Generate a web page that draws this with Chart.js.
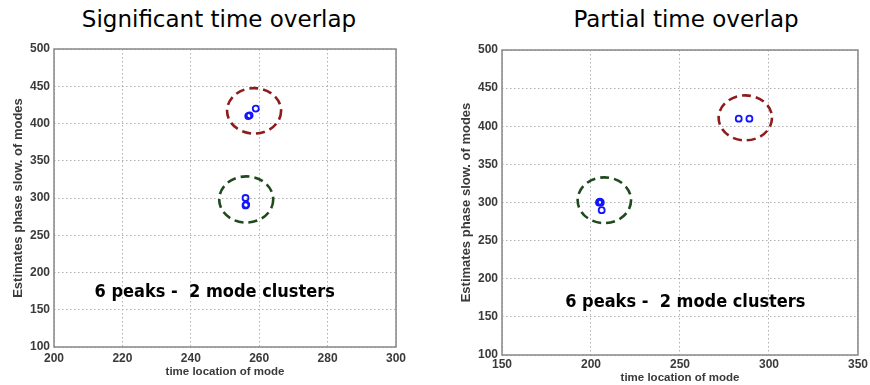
<!DOCTYPE html>
<html lang="en">
<head>
<meta charset="UTF-8" />
<title>Mode clusters</title>
<script src="https://cdn.jsdelivr.net/npm/chart.js"></script>
<style>
  * { margin: 0; padding: 0; box-sizing: border-box; }
  body {
    width: 870px;
    height: 385px;
    background: #fff;
    position: relative;
    overflow: hidden;
    font-family: 'DejaVu Sans', sans-serif;
  }
  .panel { position: absolute; top: 0; width: 435px; height: 385px; }
  .panel h2 {
    position: absolute;
    top: 8px;
    transform: translateX(-50%);
    font-weight: normal;
    font-size: 23px;
    line-height: 1;
    color: #000;
    white-space: nowrap;
  }
  canvas { position: absolute; left: 0; top: 0; }
</style>
</head>
<body>

<div class="panel" style="left:0">
  <h2 style="left:219px">Significant time overlap</h2>
  <canvas id="leftChart" width="435" height="385"></canvas>
</div>
<div class="panel" style="left:435px">
  <h2 style="left:251px">Partial time overlap</h2>
  <canvas id="rightChart" width="435" height="385"></canvas>
</div>

<script>
  // detected peaks: time location vs. estimated phase slowness
  const leftTimes  = [256.8, 257.2, 259, 256, 256, 256.2];
  const leftSlows  = [410, 411, 420, 300, 290, 291];
  const rightTimes = [283, 289, 204.5, 205.5, 205, 206];
  const rightSlows = [410, 410, 300, 300, 301, 290];

  const leftXTicks  = [200, 220, 240, 260, 280, 300];
  const rightXTicks = [150, 200, 250, 300, 350];
  const yTicks      = [100, 150, 200, 250, 300, 350, 400, 450, 500];

  // cluster rings (centre and half-axes in data units)
  const leftRingCentres  = [[258.5, 417], [256.2, 298]];
  const leftRingRadii    = [[7.9, 30.5], [7.9, 31]];
  const rightRingCentres = [[286.7, 411], [207.5, 303]];
  const rightRingRadii   = [[15, 29.5], [15, 30]];
  const ringColours      = ['#8e1c1c', '#1e4a1e'];

  const noteText = '6 peaks -  2 mode clusters';

  const rings = {
    id: 'rings',
    beforeDatasetsDraw(chart, args, opts) {
      const {ctx, scales: {x, y}} = chart;
      ctx.save();
      ctx.lineWidth = 2.6;
      ctx.setLineDash([9, 5]);
      opts.centres.forEach((c, i) => {
        const px = x.getPixelForValue(c[0]);
        const py = y.getPixelForValue(c[1]);
        const rx = Math.abs(x.getPixelForValue(c[0] + opts.radii[i][0]) - px);
        const ry = Math.abs(y.getPixelForValue(c[1] + opts.radii[i][1]) - py);
        ctx.strokeStyle = ringColours[i];
        ctx.beginPath();
        ctx.ellipse(px, py, rx, ry, 0, 0, Math.PI * 2);
        ctx.stroke();
      });
      ctx.restore();
    },
    afterDatasetsDraw(chart, args, opts) {
      const {ctx, scales: {x, y}} = chart;
      ctx.save();
      ctx.font = 'bold 18px "DejaVu Sans Condensed", "DejaVu Sans", sans-serif';
      ctx.fillStyle = '#000';
      ctx.textAlign = 'center';
      ctx.textBaseline = 'middle';
      ctx.fillText(noteText, x.getPixelForValue(opts.note[0]), y.getPixelForValue(opts.note[1]));
      ctx.restore();
    },
    afterDraw(chart) {
      const {ctx, chartArea: a} = chart;
      ctx.save();
      ctx.strokeStyle = '#888';
      ctx.lineWidth = 1.5;
      ctx.strokeRect(a.left, a.top, a.right - a.left, a.bottom - a.top);
      ctx.restore();
    }
  };

  const tickFont = {family: '"Liberation Sans", Arial, sans-serif', size: 12, weight: 'bold'};
  const xTitleFont = {family: '"Liberation Sans", Arial, sans-serif', size: 11.5, weight: 'bold'};
  const yTitleFont = {family: '"Liberation Sans", Arial, sans-serif', size: 13, weight: 'bold'};

  function makeChart(id, xs, ys, xTicks, centres, radii, note, box) {
    return new Chart(document.getElementById(id), {
      type: 'scatter',
      data: {
        datasets: [{
          data: xs.map((t, i) => ({x: t, y: ys[i]})),
          pointStyle: 'circle',
          pointRadius: 3,
          pointBorderWidth: 1.8,
          borderColor: '#1414ff',
          backgroundColor: 'rgba(0,0,0,0)'
        }]
      },
      plugins: [rings],
      options: {
        responsive: false,
        animation: false,
        layout: {padding: {left: box.left, right: box.right, top: box.top, bottom: 0}},
        plugins: {
          legend: {display: false},
          tooltip: {enabled: false},
          rings: {centres: centres, radii: radii, note: note}
        },
        scales: {
          x: {
            type: 'linear',
            min: xTicks[0],
            max: xTicks[xTicks.length - 1],
            afterBuildTicks: s => { s.ticks = xTicks.map(v => ({value: v})); },
            afterFit: s => { s.height = box.xHeight; },
            grid: {color: '#b0b0b0', lineWidth: 1, drawTicks: false},
            border: {display: false, dash: [1.5, 2.5]},
            ticks: {color: '#3a3a3a', font: tickFont, padding: box.xPad, maxRotation: 0},
            title: {display: true, text: 'time location of mode', color: '#3a3a3a', font: xTitleFont,
                    padding: {top: 0, bottom: box.xTitlePad}}
          },
          y: {
            type: 'linear',
            min: yTicks[0],
            max: yTicks[yTicks.length - 1],
            afterBuildTicks: s => { s.ticks = yTicks.map(v => ({value: v})); },
            afterFit: s => { s.width = box.yWidth; },
            grid: {color: '#b0b0b0', lineWidth: 1, drawTicks: false},
            border: {display: false, dash: [1.5, 2.5]},
            ticks: {color: '#3a3a3a', font: tickFont, padding: 4},
            title: {display: true, text: 'Estimates phase slow. of modes', color: '#3a3a3a', font: yTitleFont,
                    padding: {top: 1, bottom: 0}}
          }
        }
      }
    });
  }

  makeChart('leftChart', leftTimes, leftSlows, leftXTicks, leftRingCentres, leftRingRadii, [247, 174],
    {left: 10, right: 39, top: 49, yWidth: 44, xHeight: 38, xPad: 4, xTitlePad: 6});
  makeChart('rightChart', rightTimes, rightSlows, rightXTicks, rightRingCentres, rightRingRadii, [253, 169.5],
    {left: 23, right: 10, top: 50, yWidth: 44, xHeight: 30, xPad: 2, xTitlePad: 0});
</script>

</body>
</html>
